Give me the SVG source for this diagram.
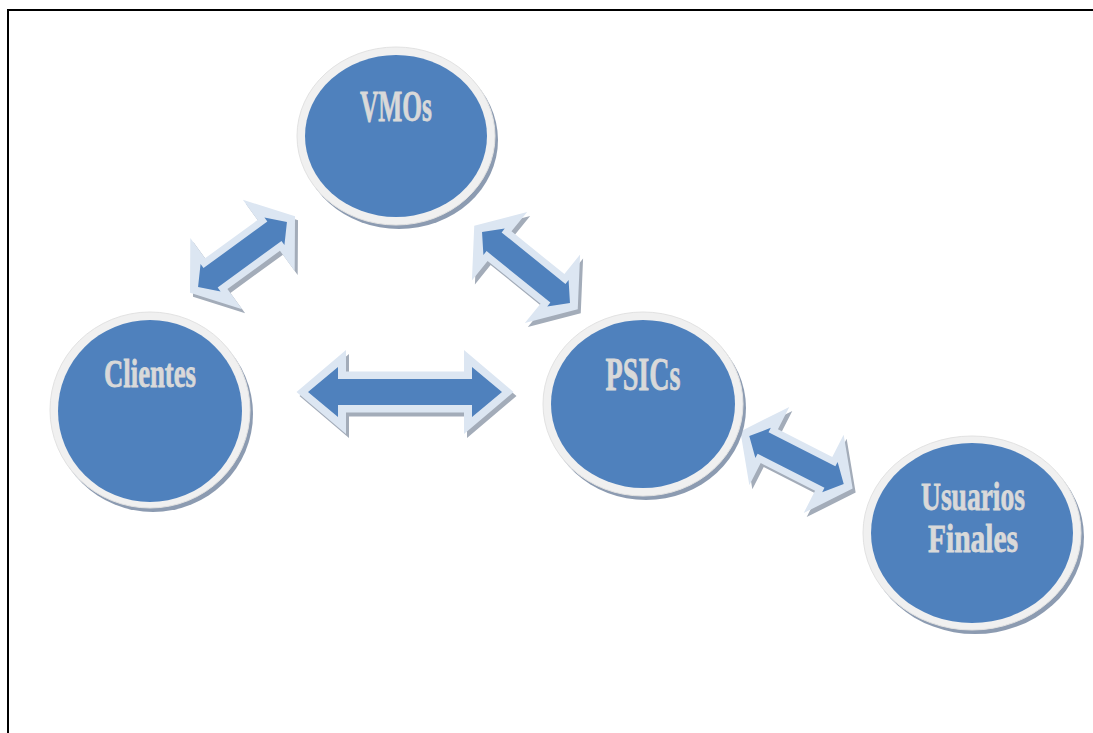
<svg xmlns="http://www.w3.org/2000/svg" xmlns:xlink="http://www.w3.org/1999/xlink" width="1093" height="733" viewBox="0 0 1093 733">
  <style>
    .frame { fill: none; stroke: #000; stroke-width: 2; }
    .csh { fill: #8c9bb1; }
    .ring { fill: #f0f0f0; stroke: #e2e2e2; stroke-width: 1; }
    .disc { fill: #4f81bd; }
    .lbl { font-family: "Liberation Serif", serif; font-weight: bold; fill: #d9d9d9; stroke: #d9d9d9; stroke-width: 0.8; text-anchor: middle; }
    .ash { fill: #a3acb9; }
    .halo { fill: #dce6f2; }
    .body { fill: #4f81bd; }
  </style>
  <defs>
    <!-- double-headed block arrows along the x axis, centred on the origin:
         a light outer shape and the blue body inside it -->
    <polygon id="haloLong" points="-108.5,0 -59,-42 -59,-20.5 59,-20.5 59,-42 108.5,0 59,42 59,20.5 -59,20.5 -59,42"/>
    <polygon id="bodyLong" points="-97,0 -67,-25 -67,-13 67,-13 67,-25 97,0 67,25 67,13 -67,13 -67,25"/>

    <polygon id="halo55" points="-65,0 -32.5,-44 -32.5,-19 32.5,-19 32.5,-44 65,0 32.5,44 32.5,19 -32.5,19 -32.5,44"/>
    <polygon id="body55" points="-55,0 -39.5,-17 -39.5,-12 39.5,-12 39.5,-17 55,0 39.5,17 39.5,12 -39.5,12 -39.5,17"/>

    <polygon id="halo56" points="-66.5,0 -34,-44 -34,-19 34,-19 34,-44 66.5,0 34,44 34,19 -34,19 -34,44"/>
    <polygon id="body56" points="-56.5,0 -41,-17 -41,-12 41,-12 41,-17 56.5,0 41,17 41,12 -41,12 -41,17"/>

    <polygon id="halo53" points="-63,0 -30.5,-44 -30.5,-19 30.5,-19 30.5,-44 63,0 30.5,44 30.5,19 -30.5,19 -30.5,44"/>
    <polygon id="body53" points="-53,0 -37.5,-17 -37.5,-12 37.5,-12 37.5,-17 53,0 37.5,17 37.5,12 -37.5,12 -37.5,17"/>
  </defs>

  <rect width="1093" height="733" fill="#fff"/>
  <path class="frame" d="M8,733 V10 H1093"/>

  <g id="connectors">
    <!-- Clientes <-> VMOs -->
    <g id="arrow-clientes-vmos">
      <use xlink:href="#halo55" class="ash" transform="translate(245.5,258.5) rotate(-36.1)"/>
      <use xlink:href="#halo55" class="halo" transform="translate(242.5,254.5) rotate(-36.1)"/>
      <use xlink:href="#body55" class="body" transform="translate(242.5,254.5) rotate(-36.1)"/>
    </g>
    <!-- VMOs <-> PSICs -->
    <g id="arrow-vmos-psics">
      <use xlink:href="#halo56" class="ash" transform="translate(529,271.5) rotate(38.9)"/>
      <use xlink:href="#halo56" class="halo" transform="translate(526,267.5) rotate(38.9)"/>
      <use xlink:href="#body56" class="body" transform="translate(526,267.5) rotate(38.9)"/>
    </g>
    <!-- Clientes <-> PSICs -->
    <g id="arrow-clientes-psics">
      <use xlink:href="#haloLong" class="ash" transform="translate(408,396)"/>
      <use xlink:href="#haloLong" class="halo" transform="translate(405,392)"/>
      <use xlink:href="#bodyLong" class="body" transform="translate(405,392)"/>
    </g>
    <!-- PSICs <-> Usuarios Finales -->
    <g id="arrow-psics-usuarios">
      <use xlink:href="#halo53" class="ash" transform="translate(799.5,464) rotate(27)"/>
      <use xlink:href="#halo53" class="halo" transform="translate(796.5,460) rotate(27)"/>
      <use xlink:href="#body53" class="body" transform="translate(796.5,460) rotate(27)"/>
    </g>
  </g>

  <g id="node-vmos">
    <ellipse class="csh" cx="399" cy="140" rx="99" ry="89"/>
    <ellipse class="ring" cx="396" cy="136" rx="99" ry="89"/>
    <ellipse class="disc" cx="396" cy="136" rx="91" ry="81"/>
    <text class="lbl" x="396" y="121" font-size="44" textLength="72" lengthAdjust="spacingAndGlyphs">VMOs</text>
  </g>

  <g id="node-clientes">
    <ellipse class="csh" cx="153" cy="414" rx="100" ry="98"/>
    <ellipse class="ring" cx="150" cy="410" rx="100" ry="98"/>
    <ellipse class="disc" cx="150" cy="411" rx="92" ry="91"/>
    <text class="lbl" x="150" y="387" font-size="40" textLength="92" lengthAdjust="spacingAndGlyphs">Clientes</text>
  </g>

  <g id="node-psics">
    <ellipse class="csh" cx="646" cy="408" rx="100" ry="92"/>
    <ellipse class="ring" cx="643" cy="404" rx="100" ry="92"/>
    <ellipse class="disc" cx="643" cy="404" rx="92" ry="84"/>
    <text class="lbl" x="643" y="390" font-size="46" textLength="75" lengthAdjust="spacingAndGlyphs">PSICs</text>
  </g>

  <g id="node-usuarios-finales">
    <ellipse class="csh" cx="975" cy="537" rx="109" ry="97"/>
    <ellipse class="ring" cx="972" cy="533" rx="109" ry="97"/>
    <ellipse class="disc" cx="972" cy="533" rx="101" ry="90"/>
    <text class="lbl" x="973" y="510" font-size="41" textLength="104" lengthAdjust="spacingAndGlyphs">Usuarios</text>
    <text class="lbl" x="973" y="552" font-size="41" textLength="90" lengthAdjust="spacingAndGlyphs">Finales</text>
  </g>
</svg>
